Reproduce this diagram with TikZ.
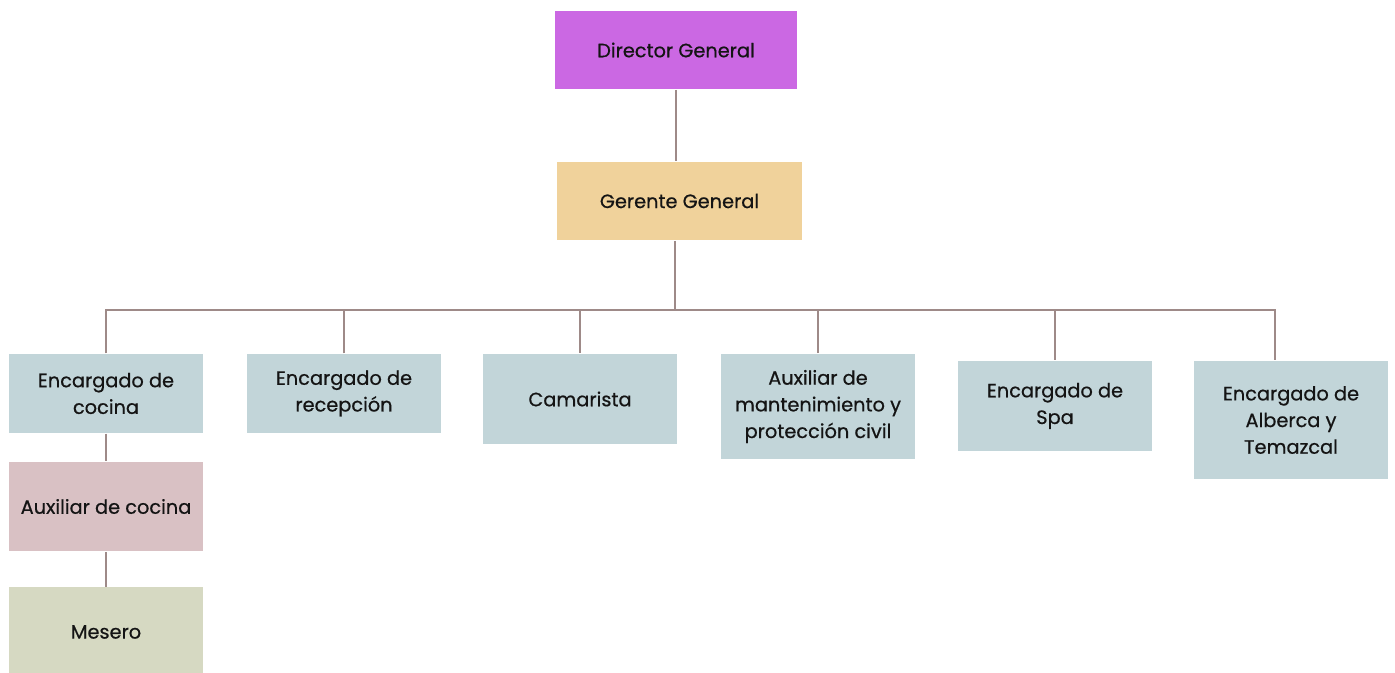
\documentclass[tikz,border=0pt]{standalone}
\usepackage{fontspec}
\setmainfont{Poppins}
\newfontfamily\boxfont[FakeBold=0.6]{Poppins}
\usepackage{xcolor}

\definecolor{linecol}{HTML}{9E8A88}
\definecolor{dircol}{HTML}{CB68E3}
\definecolor{gercol}{HTML}{F0D29B}
\definecolor{enccol}{HTML}{C2D5D9}
\definecolor{auxcol}{HTML}{D9C1C4}
\definecolor{mescol}{HTML}{D6D9C2}

\begin{document}
\begin{tikzpicture}[x=0.75pt,y=-0.75pt,
    box/.style={inner sep=0pt,outer sep=0pt,minimum width=147pt,minimum height=60pt,align=center,
      draw=white,line width=0.8pt,font=\boxfont\fontsize{14.5}{20}\selectfont,text=black!92},
    link/.style={draw=linecol,line width=1.1pt}]
  \useasboundingbox (0,0) rectangle (1395,673);

  \node (director) [box,fill=dircol,minimum width=183pt] at (676,50) {Director General};
  \node (gerente) [box,fill=gercol,minimum width=184pt] at (679.5,201) {Gerente General};

  \node (cocina) [box,fill=enccol] at (106,393.5) {Encargado de\\cocina};
  \node (recepcion) [box,fill=enccol] at (344,393.5) {Encargado de\\recepción};
  \node (camarista) [box,fill=enccol,minimum height=69pt] at (580,399) {Camarista};
  \node (mantenimiento) [box,fill=enccol,minimum height=80pt] at (818,406.5) {Auxiliar de\\mantenimiento y\\protección civil};
  \node (spa) [box,fill=enccol,minimum height=69pt] at (1055,406) {Encargado de\\Spa};
  \node (alberca) [box,fill=enccol,minimum height=90pt] at (1291,420) {Encargado de\\Alberca y\\Temazcal};

  \node (auxcocina) [box,fill=auxcol,minimum height=68pt] at (106,506.5) {Auxiliar de cocina};
  \node (mesero) [box,fill=mescol,minimum height=68pt] at (106,632) {Mesero};

  \coordinate (bus) at (675,310);
  \coordinate (albercatop) at (1275,360);

  \draw [link] (director) -- (director |- gerente.north);
  \draw [link] (gerente.south -| bus) -- (bus);

  \foreach \n in {cocina,recepcion,camarista,mantenimiento,spa}
    \draw [link] (\n.north) |- (bus);
  \draw [link] (albercatop) |- (bus);

  \draw [link] (cocina) -- (auxcocina);
  \draw [link] (auxcocina) -- (mesero);

\end{tikzpicture}
\end{document}
